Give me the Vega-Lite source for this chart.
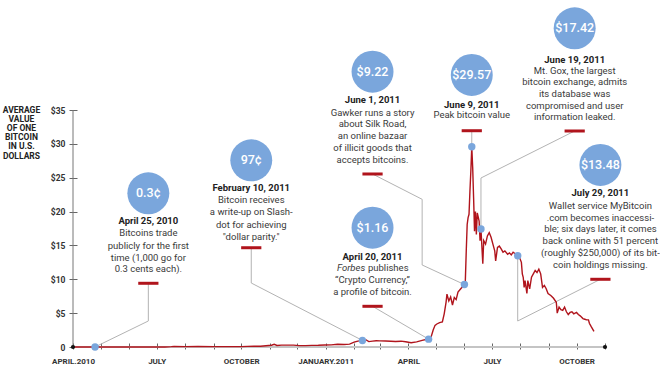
{
  "$schema": "https://vega.github.io/schema/vega-lite/v6.json",
  "width": 532,
  "height": 237,
  "autosize": {"type": "none"},
  "padding": {"left": 73, "top": 110, "right": 55, "bottom": 25},
  "background": "white",
  "config": {
    "view": {"stroke": null},
    "font": "Roboto",
    "axisY": {
      "grid": false,
      "domain": false,
      "offset": -4,
      "tickSize": 8,
      "tickColor": "#666666",
      "tickCount": 8,
      "labelOverlap": false,
      "labelBound": false,
      "labelFlush": false,
      "labelExpr": "datum.value == 0 ? '0' : '$' + datum.value",
      "labelPadding": 4,
      "labelFontSize": 8.5,
      "labelFontWeight": "bold",
      "labelColor": "#333333"
    }
  },
  "datasets": {
    "price": [
      {"date": "2010-04-01", "price": 0.003},
      {"date": "2010-04-25", "price": 0.003},
      {"date": "2010-05-22", "price": 0.003},
      {"date": "2010-06-15", "price": 0.005},
      {"date": "2010-07-10", "price": 0.01},
      {"date": "2010-07-17", "price": 0.05},
      {"date": "2010-07-20", "price": 0.08},
      {"date": "2010-08-01", "price": 0.06},
      {"date": "2010-08-15", "price": 0.07},
      {"date": "2010-09-01", "price": 0.06},
      {"date": "2010-09-15", "price": 0.06},
      {"date": "2010-10-01", "price": 0.06},
      {"date": "2010-10-08", "price": 0.09},
      {"date": "2010-10-15", "price": 0.1},
      {"date": "2010-10-22", "price": 0.11},
      {"date": "2010-10-28", "price": 0.19},
      {"date": "2010-11-03", "price": 0.26},
      {"date": "2010-11-06", "price": 0.39},
      {"date": "2010-11-09", "price": 0.23},
      {"date": "2010-11-14", "price": 0.27},
      {"date": "2010-11-20", "price": 0.28},
      {"date": "2010-11-27", "price": 0.28},
      {"date": "2010-12-03", "price": 0.21},
      {"date": "2010-12-10", "price": 0.21},
      {"date": "2010-12-17", "price": 0.24},
      {"date": "2010-12-24", "price": 0.25},
      {"date": "2010-12-31", "price": 0.3},
      {"date": "2011-01-07", "price": 0.32},
      {"date": "2011-01-14", "price": 0.4},
      {"date": "2011-01-21", "price": 0.38},
      {"date": "2011-01-27", "price": 0.42},
      {"date": "2011-02-01", "price": 0.72},
      {"date": "2011-02-05", "price": 0.87},
      {"date": "2011-02-10", "price": 0.97},
      {"date": "2011-02-14", "price": 1.05},
      {"date": "2011-02-17", "price": 0.8},
      {"date": "2011-02-21", "price": 0.86},
      {"date": "2011-02-25", "price": 0.92},
      {"date": "2011-03-01", "price": 0.9},
      {"date": "2011-03-07", "price": 0.89},
      {"date": "2011-03-13", "price": 0.86},
      {"date": "2011-03-18", "price": 0.82},
      {"date": "2011-03-24", "price": 0.86},
      {"date": "2011-03-29", "price": 0.78},
      {"date": "2011-04-04", "price": 0.62},
      {"date": "2011-04-10", "price": 0.76},
      {"date": "2011-04-16", "price": 0.98},
      {"date": "2011-04-20", "price": 1.1},
      {"date": "2011-04-23", "price": 1.16},
      {"date": "2011-04-26", "price": 1.6},
      {"date": "2011-04-28", "price": 2.5},
      {"date": "2011-04-30", "price": 3.2},
      {"date": "2011-05-02", "price": 3.4},
      {"date": "2011-05-05", "price": 3.6},
      {"date": "2011-05-08", "price": 3.7},
      {"date": "2011-05-10", "price": 4.9},
      {"date": "2011-05-12", "price": 6.6},
      {"date": "2011-05-13", "price": 7.8},
      {"date": "2011-05-15", "price": 6.8},
      {"date": "2011-05-17", "price": 7.4},
      {"date": "2011-05-19", "price": 6.2},
      {"date": "2011-05-21", "price": 7.3},
      {"date": "2011-05-23", "price": 7.0},
      {"date": "2011-05-25", "price": 8.1},
      {"date": "2011-05-28", "price": 8.6},
      {"date": "2011-06-01", "price": 9.22},
      {"date": "2011-06-02", "price": 9.8},
      {"date": "2011-06-03", "price": 14.2},
      {"date": "2011-06-04", "price": 18.1},
      {"date": "2011-06-05", "price": 19.1},
      {"date": "2011-06-06", "price": 19.6},
      {"date": "2011-06-07", "price": 23.0},
      {"date": "2011-06-08", "price": 26.0},
      {"date": "2011-06-09", "price": 29.57},
      {"date": "2011-06-10", "price": 26.5},
      {"date": "2011-06-11", "price": 22.0},
      {"date": "2011-06-12", "price": 17.1},
      {"date": "2011-06-13", "price": 20.0},
      {"date": "2011-06-14", "price": 16.6},
      {"date": "2011-06-15", "price": 19.8},
      {"date": "2011-06-16", "price": 19.2},
      {"date": "2011-06-17", "price": 18.6},
      {"date": "2011-06-18", "price": 15.7},
      {"date": "2011-06-19", "price": 17.42},
      {"date": "2011-06-21", "price": 12.3},
      {"date": "2011-06-22", "price": 15.7},
      {"date": "2011-06-24", "price": 15.2},
      {"date": "2011-06-26", "price": 16.4},
      {"date": "2011-06-28", "price": 16.9},
      {"date": "2011-06-30", "price": 16.2},
      {"date": "2011-07-02", "price": 15.2},
      {"date": "2011-07-04", "price": 14.2},
      {"date": "2011-07-05", "price": 12.7},
      {"date": "2011-07-07", "price": 14.7},
      {"date": "2011-07-09", "price": 14.9},
      {"date": "2011-07-11", "price": 14.5},
      {"date": "2011-07-13", "price": 14.0},
      {"date": "2011-07-15", "price": 14.2},
      {"date": "2011-07-18", "price": 13.7},
      {"date": "2011-07-20", "price": 13.9},
      {"date": "2011-07-22", "price": 13.6},
      {"date": "2011-07-24", "price": 14.0},
      {"date": "2011-07-27", "price": 13.7},
      {"date": "2011-07-29", "price": 13.48},
      {"date": "2011-07-31", "price": 13.2},
      {"date": "2011-08-02", "price": 12.5},
      {"date": "2011-08-03", "price": 10.8},
      {"date": "2011-08-04", "price": 10.3},
      {"date": "2011-08-05", "price": 8.8},
      {"date": "2011-08-06", "price": 9.8},
      {"date": "2011-08-08", "price": 7.9},
      {"date": "2011-08-09", "price": 9.8},
      {"date": "2011-08-11", "price": 8.6},
      {"date": "2011-08-13", "price": 10.3},
      {"date": "2011-08-15", "price": 10.8},
      {"date": "2011-08-17", "price": 11.3},
      {"date": "2011-08-19", "price": 11.0},
      {"date": "2011-08-21", "price": 11.5},
      {"date": "2011-08-23", "price": 10.8},
      {"date": "2011-08-25", "price": 8.8},
      {"date": "2011-08-27", "price": 9.1},
      {"date": "2011-08-29", "price": 8.6},
      {"date": "2011-08-31", "price": 7.9},
      {"date": "2011-09-03", "price": 7.6},
      {"date": "2011-09-06", "price": 7.2},
      {"date": "2011-09-09", "price": 6.6},
      {"date": "2011-09-10", "price": 5.0},
      {"date": "2011-09-12", "price": 5.9},
      {"date": "2011-09-14", "price": 5.5},
      {"date": "2011-09-16", "price": 5.4},
      {"date": "2011-09-18", "price": 5.9},
      {"date": "2011-09-20", "price": 5.2},
      {"date": "2011-09-22", "price": 4.8},
      {"date": "2011-09-24", "price": 5.1},
      {"date": "2011-09-26", "price": 5.2},
      {"date": "2011-09-28", "price": 4.9},
      {"date": "2011-10-01", "price": 5.1},
      {"date": "2011-10-03", "price": 4.8},
      {"date": "2011-10-05", "price": 4.6},
      {"date": "2011-10-08", "price": 4.2},
      {"date": "2011-10-10", "price": 4.1},
      {"date": "2011-10-12", "price": 4.0},
      {"date": "2011-10-14", "price": 4.0},
      {"date": "2011-10-15", "price": 3.5},
      {"date": "2011-10-17", "price": 3.0},
      {"date": "2011-10-20", "price": 2.3}
    ],
    "events": [
      {"date": "2010-04-25", "price": 0.003},
      {"date": "2011-02-10", "price": 0.97},
      {"date": "2011-04-23", "price": 1.16},
      {"date": "2011-06-01", "price": 9.22},
      {"date": "2011-06-09", "price": 29.57},
      {"date": "2011-06-19", "price": 17.42},
      {"date": "2011-07-29", "price": 13.48}
    ],
    "ann": [
      {"date": "2010-06-22", "cy": 22.7, "big": "0.3¢", "title": "April 25, 2010", "ty": 18.61},
      {"date": "2010-10-12", "cy": 27.57, "big": "97¢", "title": "February 10, 2011", "ty": 23.44},
      {"date": "2011-02-21", "cy": 40.66, "big": "$9.22", "title": "June 1, 2011", "ty": 36.43},
      {"date": "2011-02-21", "cy": 17.62, "big": "$1.16", "title": "April 20, 2011", "ty": 13.29},
      {"date": "2011-06-09", "cy": 40.17, "big": "$29.57", "title": "June 9, 2011", "ty": 35.69},
      {"date": "2011-09-29", "cy": 47.07, "big": "$17.42", "title": "June 19, 2011", "ty": 42.38},
      {"date": "2011-10-27", "cy": 26.88, "big": "$13.48", "title": "July 29, 2011", "ty": 22.79}
    ],
    "body": [
      {"date": "2010-06-22", "y": 16.79, "text": "Bitcoins trade"},
      {"date": "2010-06-22", "y": 14.92, "text": "publicly for the first"},
      {"date": "2010-06-22", "y": 13.19, "text": "time (1,000 go for"},
      {"date": "2010-06-22", "y": 11.47, "text": "0.3 cents each)."},
      {"date": "2010-10-12", "y": 21.71, "text": "Bitcoin receives"},
      {"date": "2010-10-12", "y": 19.89, "text": "a write-up on Slash-"},
      {"date": "2010-10-12", "y": 18.07, "text": "dot for achieving"},
      {"date": "2010-10-12", "y": 16.29, "text": "\"dollar parity.\""},
      {"date": "2011-02-21", "y": 34.6, "text": "Gawker runs a story"},
      {"date": "2011-02-21", "y": 32.89, "text": "about Silk Road,"},
      {"date": "2011-02-21", "y": 31.16, "text": "an online bazaar"},
      {"date": "2011-02-21", "y": 29.39, "text": "of illicit goods that"},
      {"date": "2011-02-21", "y": 27.62, "text": "accepts bitcoins."},
      {"date": "2011-02-21", "y": 9.85, "text": "“Crypto Currency,”"},
      {"date": "2011-02-21", "y": 8.12, "text": "a profile of bitcoin."},
      {"date": "2011-06-09", "y": 34.26, "text": "Peak bitcoin value"},
      {"date": "2011-09-29", "y": 40.8, "text": "Mt. Gox, the largest"},
      {"date": "2011-09-29", "y": 39.13, "text": "bitcoin exchange, admits"},
      {"date": "2011-09-29", "y": 37.4, "text": "its database was"},
      {"date": "2011-09-29", "y": 35.64, "text": "compromised and user"},
      {"date": "2011-09-29", "y": 33.97, "text": "information leaked."},
      {"date": "2011-10-27", "y": 20.87, "text": "Wallet service MyBitcoin"},
      {"date": "2011-10-27", "y": 19.1, "text": ".com becomes inaccessi-"},
      {"date": "2011-10-27", "y": 17.38, "text": "ble; six days later, it comes"},
      {"date": "2011-10-27", "y": 15.65, "text": "back online with 51 percent"},
      {"date": "2011-10-27", "y": 13.88, "text": "(roughly $250,000) of its bit-"},
      {"date": "2011-10-27", "y": 12.15, "text": "coin holdings missing."}
    ],
    "redmarks": [
      {"x": "2010-06-11", "x2": "2010-07-03", "y": 9.41},
      {"x": "2010-10-01", "x2": "2010-10-23", "y": 14.66},
      {"x": "2011-02-10", "x2": "2011-03-04", "y": 25.55},
      {"x": "2011-02-10", "x2": "2011-03-04", "y": 6.01},
      {"x": "2011-05-29", "x2": "2011-06-20", "y": 31.94},
      {"x": "2011-09-18", "x2": "2011-10-10", "y": 31.9},
      {"x": "2011-10-16", "x2": "2011-11-07", "y": 10.0}
    ],
    "leaders": [
      {"x": "2010-06-22", "y": 9.41, "x2": "2010-06-22", "y2": 3.84},
      {"x": "2010-06-22", "y": 3.84, "x2": "2010-04-25", "y2": 0.003},
      {"x": "2010-10-12", "y": 14.66, "x2": "2010-10-12", "y2": 9.45},
      {"x": "2010-10-12", "y": 9.45, "x2": "2011-02-10", "y2": 0.97},
      {"x": "2011-02-21", "y": 25.55, "x2": "2011-04-16", "y2": 21.81},
      {"x": "2011-04-16", "y": 21.81, "x2": "2011-04-16", "y2": 12.11},
      {"x": "2011-04-16", "y": 12.11, "x2": "2011-06-01", "y2": 9.22},
      {"x": "2011-02-21", "y": 6.01, "x2": "2011-04-23", "y2": 1.16},
      {"x": "2011-06-09", "y": 31.94, "x2": "2011-06-09", "y2": 29.57},
      {"x": "2011-09-29", "y": 31.9, "x2": "2011-06-19", "y2": 24.96},
      {"x": "2011-06-19", "y": 24.96, "x2": "2011-06-19", "y2": 17.42},
      {"x": "2011-10-27", "y": 10.0, "x2": "2011-07-29", "y2": 3.84},
      {"x": "2011-07-29", "y": 3.84, "x2": "2011-07-29", "y2": 13.48}
    ],
    "ends": [
      {"date": "2010-04-01", "v": 0, "v2": 35},
      {"date": "2011-11-01", "v": 0, "v2": 0}
    ]
  },
  "layer": [
    {
      "data": {"name": "price"},
      "mark": {"type": "line", "color": "#b0141c", "strokeWidth": 1.4, "opacity": 0},
      "encoding": {
        "x": {
          "field": "date",
          "type": "temporal",
          "scale": {
            "type": "utc",
            "domain": [
              {"year": 2010, "month": 4, "date": 1, "utc": true},
              {"year": 2011, "month": 11, "date": 1, "utc": true}
            ]
          },
          "axis": {
            "title": null,
            "grid": false,
            "domain": false,
            "offset": -4,
            "tickSize": 6,
            "tickColor": "#666666",
            "tickWidth": 1,
            "tickCount": {"interval": "month", "step": 1},
            "labelExpr": "utcmonth(datum.value) == 3 ? (utcyear(datum.value) == 2010 ? 'APRIL.2010' : 'APRIL') : utcmonth(datum.value) == 6 ? 'JULY' : utcmonth(datum.value) == 9 ? 'OCTOBER' : utcmonth(datum.value) == 0 ? 'JANUARY.' + utcyear(datum.value) : ''",
            "labelOverlap": false,
            "labelFlush": false,
            "labelBound": false,
            "labelPadding": 8,
            "labelFontSize": 8,
            "labelFontWeight": "bold",
            "labelColor": "#333333"
          }
        },
        "y": {
          "field": "price",
          "type": "quantitative",
          "scale": {"domain": [0, 35], "nice": false},
          "axis": {
            "title": ["AVERAGE", "VALUE", "OF ONE", "BITCOIN", "IN U.S.", "DOLLARS"],
            "titleAngle": 0,
            "titleX": -56,
            "titleY": -5,
            "titleAlign": "center",
            "titleBaseline": "top",
            "titleFontSize": 8.5,
            "titleFontWeight": "bold",
            "titleLineHeight": 9.2,
            "titleColor": "#222222",
            "values": [0, 5, 10, 15, 20, 25, 30, 35],
            "tickCount": 8,
            "labelOverlap": false
          }
        }
      }
    },
    {
      "data": {"name": "leaders"},
      "mark": {"type": "rule", "color": "#b3b3b3", "strokeWidth": 1},
      "encoding": {
        "x": {"field": "x", "type": "temporal"},
        "x2": {"field": "x2"},
        "y": {"field": "y", "type": "quantitative"},
        "y2": {"field": "y2"}
      }
    },
    {
      "data": {"name": "ends"},
      "transform": [{"filter": "datum.v2 > 0"}],
      "mark": {"type": "rule", "color": "#777777", "strokeWidth": 1},
      "encoding": {
        "x": {"field": "date", "type": "temporal"},
        "y": {"field": "v", "type": "quantitative"},
        "y2": {"field": "v2"}
      }
    },
    {
      "data": {"name": "ends"},
      "transform": [{"filter": "datum.v2 > 0"}],
      "mark": {"type": "rule", "color": "#c4c4c4", "strokeWidth": 2.2},
      "encoding": {
        "y": {"field": "v", "type": "quantitative"}
      }
    },
    {
      "data": {"name": "price"},
      "mark": {"type": "line", "color": "#b0141c", "strokeWidth": 1.4},
      "encoding": {
        "x": {"field": "date", "type": "temporal"},
        "y": {"field": "price", "type": "quantitative"}
      }
    },
    {
      "data": {"name": "ends"},
      "mark": {"type": "circle", "color": "#111111", "opacity": 1, "size": 18},
      "encoding": {
        "x": {"field": "date", "type": "temporal"},
        "y": {"field": "v", "type": "quantitative"}
      }
    },
    {
      "data": {"name": "events"},
      "mark": {"type": "circle", "color": "#7aa6dc", "opacity": 1, "size": 55},
      "encoding": {
        "x": {"field": "date", "type": "temporal"},
        "y": {"field": "price", "type": "quantitative"}
      }
    },
    {
      "data": {"name": "redmarks"},
      "mark": {"type": "rule", "color": "#b0141c", "strokeWidth": 3},
      "encoding": {
        "x": {"field": "x", "type": "temporal"},
        "x2": {"field": "x2"},
        "y": {"field": "y", "type": "quantitative"}
      }
    },
    {
      "data": {"name": "ann"},
      "mark": {"type": "circle", "color": "#7aa6dc", "opacity": 1, "size": 1760},
      "encoding": {
        "x": {"field": "date", "type": "temporal"},
        "y": {"field": "cy", "type": "quantitative"}
      }
    },
    {
      "data": {"name": "ann"},
      "mark": {"type": "text", "color": "white", "fontSize": 12.5, "fontWeight": 500, "align": "center", "baseline": "middle"},
      "encoding": {
        "x": {"field": "date", "type": "temporal"},
        "y": {"field": "cy", "type": "quantitative"},
        "text": {"field": "big"}
      }
    },
    {
      "data": {"name": "ann"},
      "mark": {"type": "text", "color": "#222222", "fontSize": 9.5, "fontWeight": "bold", "align": "center", "baseline": "middle"},
      "encoding": {
        "x": {"field": "date", "type": "temporal"},
        "y": {"field": "ty", "type": "quantitative"},
        "text": {"field": "title"}
      }
    },
    {
      "data": {"name": "body"},
      "mark": {"type": "text", "color": "#3a3a3a", "fontSize": 9.5, "align": "center", "baseline": "middle"},
      "encoding": {
        "x": {"field": "date", "type": "temporal"},
        "y": {"field": "y", "type": "quantitative"},
        "text": {"field": "text"}
      }
    },
    {
      "data": {"values": [{"date": "2011-02-13", "y": 11.62, "text": "Forbes"}]},
      "mark": {"type": "text", "color": "#3a3a3a", "fontSize": 9.5, "fontStyle": "italic", "align": "right", "baseline": "middle"},
      "encoding": {
        "x": {"field": "date", "type": "temporal"},
        "y": {"field": "y", "type": "quantitative"},
        "text": {"field": "text"}
      }
    },
    {
      "data": {"values": [{"date": "2011-02-16", "y": 11.62, "text": "publishes"}]},
      "mark": {"type": "text", "color": "#3a3a3a", "fontSize": 9.5, "align": "left", "baseline": "middle"},
      "encoding": {
        "x": {"field": "date", "type": "temporal"},
        "y": {"field": "y", "type": "quantitative"},
        "text": {"field": "text"}
      }
    }
  ]
}
